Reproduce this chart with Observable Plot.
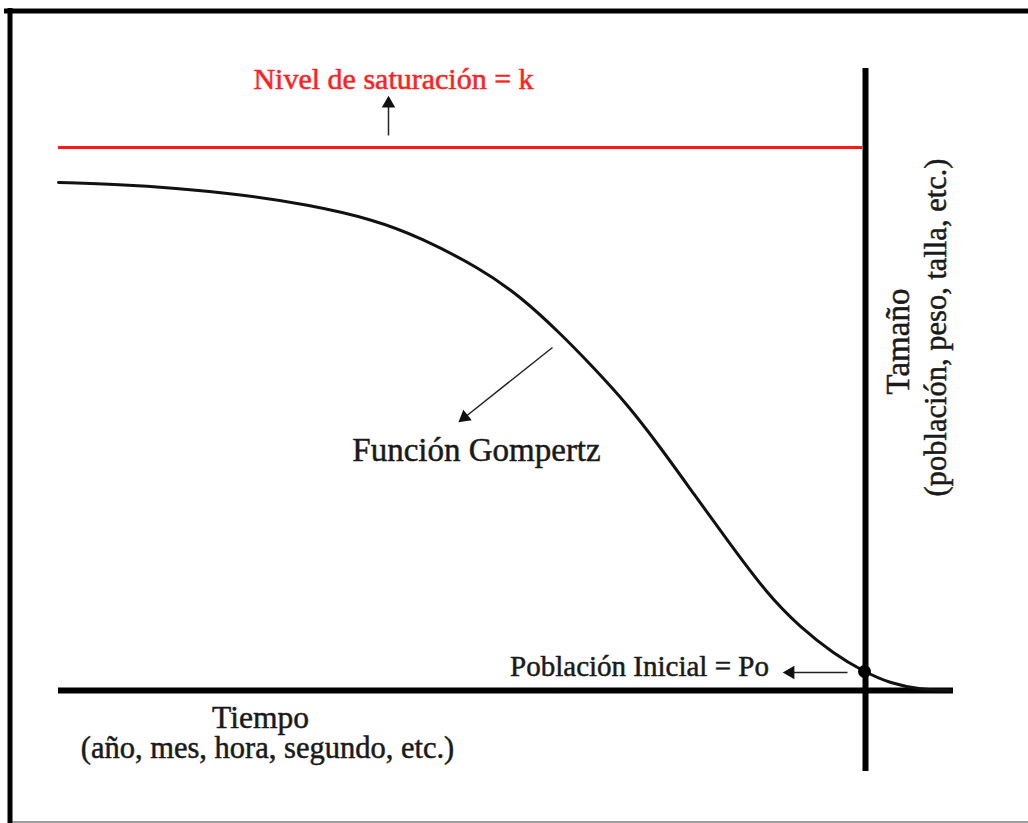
<!DOCTYPE html>
<html>
<head>
<meta charset="utf-8">
<script src="https://cdn.jsdelivr.net/npm/d3@7"></script>
<script src="https://cdn.jsdelivr.net/npm/@observablehq/plot@0.6"></script>
<style>
  html, body { margin: 0; padding: 0; background: #fff; }
  svg { display: block; }
</style>
</head>
<body>
<div id="chart"></div>
<script>
// Diagram units (1 unit = 1 px of the 1028x823 canvas, y grows downward)
const W = 1028, H = 823;

// Gompertz curve
const curveX = [58, 120, 173, 240, 307, 373, 420, 480, 520, 560, 593, 627, 660, 693, 727, 767, 800, 833, 863, 890, 920, 950];
const curveY = [182, 184, 187.5, 194, 204, 219, 237, 268, 296, 333, 367, 404, 447, 493, 540, 594, 627, 653, 671, 683, 689, 690];

// Horizontal segments: saturation level, time axis, frame top, frame bottom
const hY  = [147, 690, 10.5, 821.5];
const hX1 = [58, 58, 4, 8];
const hX2 = [862, 953, 1028, 1028];
const hColor = ["#ff1a1a", "#000", "#000", "#a0a0a0"];
const hWidth = [3, 6, 5, 2];

// Vertical segments: size axis, frame left
const vX  = [865, 9.5];
const vY1 = [68, 8];
const vY2 = [771, 823];
const vWidth = [6, 5];

// Arrows
const arrowX1 = [388, 552, 847];
const arrowY1 = [135, 347, 672];
const arrowX2 = [388, 464, 790];
const arrowY2 = [103, 417, 672];

// Initial population point
const p0X = [864], p0Y = [671];

// Labels
const labels = ["Nivel de saturación = k", "Función Gompertz", "Población Inicial = Po", "Tiempo", "(año, mes, hora, segundo, etc.)"];
const labelX = [393, 476, 639, 260, 267];
const labelY = [79, 450, 666, 717, 748];
const labelSize = [30, 33, 29, 31.5, 30.5];
const labelColor = ["#ff2020", "#1a1a1a", "#1a1a1a", "#1a1a1a", "#1a1a1a"];

const vLabels = ["Tamaño", "(población, peso, talla, etc.)"];
const vLabelX = [898, 936];
const vLabelY = [341, 327];
const vLabelSize = [33, 30.5];

const curve = curveX.map((x, i) => ({x, y: curveY[i]}));
const hsegs = hY.map((y, i) => ({y, x1: hX1[i], x2: hX2[i], c: hColor[i], w: hWidth[i]}));
const vsegs = vX.map((x, i) => ({x, y1: vY1[i], y2: vY2[i], w: vWidth[i]}));
const arrows = arrowX1.map((x1, i) => ({
  x1, y1: arrowY1[i], x2: arrowX2[i], y2: arrowY2[i],
  angle: Math.atan2(arrowX2[i] - x1, -(arrowY2[i] - arrowY1[i])) * 180 / Math.PI
}));
const points = p0X.map((x, i) => ({x, y: p0Y[i]}));
const texts = labels.map((t, i) => ({t, x: labelX[i], y: labelY[i], c: labelColor[i], s: labelSize[i]}));
const vtexts = vLabels.map((t, i) => ({t, x: vLabelX[i], y: vLabelY[i], s: vLabelSize[i]}));

const font = "'Liberation Serif', 'DejaVu Serif', serif";

const chart = Plot.plot({
  width: W,
  height: H,
  margin: 0,
  style: {background: "#fff"},
  x: {domain: [0, W], range: [0, W], axis: null},
  y: {domain: [0, H], range: [0, H], axis: null},
  marks: [
    ...hsegs.map(s => Plot.ruleY([s], {y: "y", x1: "x1", x2: "x2", stroke: s.c, strokeWidth: s.w})),
    ...vsegs.map(s => Plot.ruleX([s], {x: "x", y1: "y1", y2: "y2", stroke: "#000", strokeWidth: s.w})),
    Plot.line(curve, {x: "x", y: "y", curve: "basis", stroke: "#111", strokeWidth: 3}),
    Plot.link(arrows, {x1: "x1", y1: "y1", x2: "x2", y2: "y2", stroke: "#222", strokeWidth: 1.5}),
    Plot.dot(arrows, {x: "x2", y: "y2", symbol: "triangle", r: 5, fill: "#111", stroke: "none", rotate: "angle"}),
    Plot.dot(points, {x: "x", y: "y", r: 6.5, fill: "#000"}),
    ...texts.map(d => Plot.text([d], {x: "x", y: "y", text: "t", fill: d.c, stroke: d.c, strokeWidth: 0.5, fontSize: d.s, fontFamily: font, textAnchor: "middle"})),
    ...vtexts.map(d => Plot.text([d], {x: "x", y: "y", text: "t", fill: "#1a1a1a", stroke: "#1a1a1a", strokeWidth: 0.5, fontSize: d.s, fontFamily: font, textAnchor: "middle", rotate: -90}))
  ]
});
document.getElementById("chart").appendChild(chart);
</script>
</body>
</html>
